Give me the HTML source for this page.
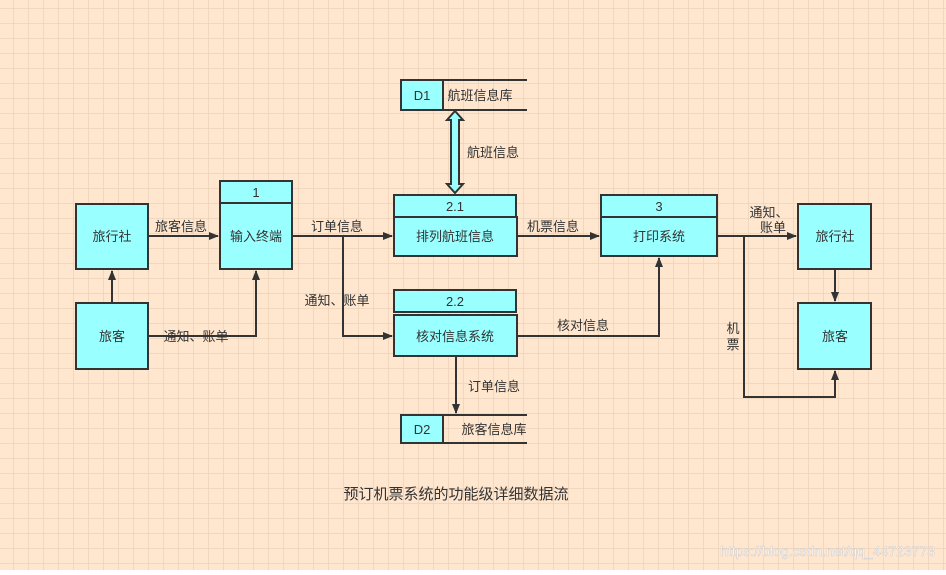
<!DOCTYPE html>
<html><head><meta charset="utf-8"><style>
body{margin:0}
svg text{font-family:"Liberation Sans","Noto Sans CJK SC",sans-serif;fill:#333}
</style></head><body>
<svg width="946" height="570" xmlns="http://www.w3.org/2000/svg">
<defs>
<pattern id="g" x="13" y="8" width="15" height="15" patternUnits="userSpaceOnUse">
<path d="M0 0H15M0 0V15" stroke="#ecd2b9" stroke-width="1.5" fill="none"/>
</pattern>
<marker id="a" markerWidth="10" markerHeight="10" refX="9" refY="5" orient="auto" markerUnits="userSpaceOnUse"><path d="M0 1L10 5L0 9Z" fill="#333"/></marker>
</defs>
<rect width="946" height="570" fill="#ffe6cf"/>
<rect width="946" height="570" fill="url(#g)"/>
<g fill="#99ffff" stroke="#333" stroke-width="2">
<rect x="76" y="204" width="72" height="65"/>
<rect x="76" y="303" width="72" height="66"/>
<rect x="220" y="181" width="72" height="22"/>
<rect x="220" y="203" width="72" height="66"/>
<rect x="394" y="195" width="122" height="22"/>
<rect x="394" y="217" width="123" height="39"/>
<rect x="394" y="290" width="122" height="22"/>
<rect x="394" y="315" width="123" height="41"/>
<rect x="601" y="195" width="116" height="22"/>
<rect x="601" y="217" width="116" height="39"/>
<rect x="798" y="204" width="73" height="65"/>
<rect x="798" y="303" width="73" height="66"/>
<rect x="401" y="80" width="42" height="30"/>
<rect x="401" y="415" width="42" height="28"/>
</g>
<g stroke="#333" stroke-width="2" fill="none">
<path d="M443 80H527M443 110H527M443 415H527M443 443H527"/>
<path d="M148 236H218" marker-end="url(#a)"/>
<path d="M112 303V271" marker-end="url(#a)"/>
<path d="M148 336H256V271" marker-end="url(#a)"/>
<path d="M292 236H392" marker-end="url(#a)"/>
<path d="M343 236V336H392" marker-end="url(#a)"/>
<path d="M517 236H599" marker-end="url(#a)"/>
<path d="M517 336H659V258" marker-end="url(#a)"/>
<path d="M717 236H796" marker-end="url(#a)"/>
<path d="M744 236V397H835V371" marker-end="url(#a)"/>
<path d="M835 269V301" marker-end="url(#a)"/>
<path d="M456 356V413" marker-end="url(#a)"/>
</g>
<path d="M455 111L463 120H459V184H463L455 193L447 184H451V120H447Z" fill="#99ffff" stroke="#333" stroke-width="2"/>
<g font-size="13" text-anchor="middle">
<text x="112" y="241">旅行社</text>
<text x="112" y="341">旅客</text>
<text x="256" y="197">1</text>
<text x="256" y="241">输入终端</text>
<text x="455" y="211">2.1</text>
<text x="455" y="241">排列航班信息</text>
<text x="455" y="306">2.2</text>
<text x="455" y="341">核对信息系统</text>
<text x="659" y="211">3</text>
<text x="659" y="241">打印系统</text>
<text x="835" y="241">旅行社</text>
<text x="835" y="341">旅客</text>
<text x="422" y="100">D1</text>
<text x="422" y="434">D2</text>
<text x="480" y="100">航班信息库</text>
<text x="494" y="434">旅客信息库</text>
<text x="181" y="231">旅客信息</text>
<text x="196" y="341">通知、账单</text>
<text x="337" y="231">订单信息</text>
<text x="337" y="305">通知、账单</text>
<text x="553" y="231">机票信息</text>
<text x="583" y="330">核对信息</text>
<text x="493" y="157">航班信息</text>
<text x="494" y="391">订单信息</text>
<text x="769" y="217">通知、</text>
<text x="773" y="232">账单</text>
<text x="733" y="333">机</text>
<text x="733" y="349">票</text>
<text x="456" y="499" font-size="15">预订机票系统的功能级详细数据流</text>
</g>
<text x="935" y="556" font-size="14" text-anchor="end" style="fill:#fff;stroke:#ccc;stroke-width:0.5">https://blog.csdn.net/qq_44723773</text>
</svg>
</body></html>
